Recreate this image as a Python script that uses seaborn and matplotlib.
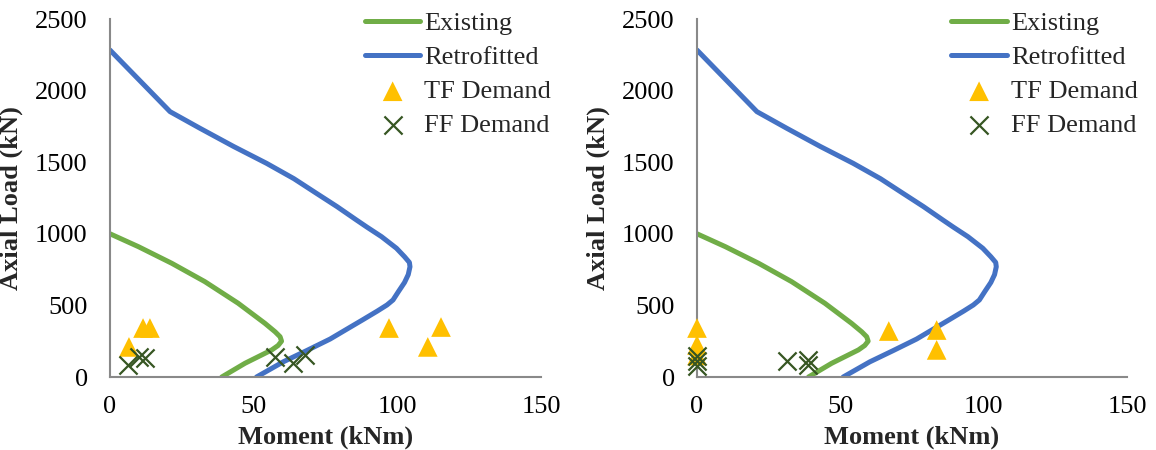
import numpy as np
import pandas as pd
import matplotlib
matplotlib.use("Agg")
import matplotlib.pyplot as plt
import seaborn as sns

# ---- data ----
existing_m = [0, 9.9, 21.5, 33, 44.6, 53.9, 57.5, 59.2, 59.7, 58.5, 56.3, 47, 38.9]
existing_p = [1000, 910, 794, 666, 515, 375, 315, 281, 250, 220, 189, 96, 0]

retro_m = [0, 20.9, 31.3, 43, 54.5, 64, 71.9, 79, 85.8, 89.4, 94.5, 99.7, 102.5,
           104.2, 104.4, 103.8, 102.5, 100.5, 98.5, 96.4, 93, 88, 82.5, 76.6,
           68.5, 60.3, 51]
retro_p = [2283, 1853, 1737, 1610, 1492, 1385, 1282, 1190, 1096, 1047, 980, 899,
           840, 800, 770, 715, 660, 600, 538, 503, 460, 400, 335, 265,
           185, 106, 0]

tf_left_m = [6.6, 11.5, 13.9, 97.1, 110.6, 115.2]
tf_left_p = [210, 342, 342, 342, 210, 349]
ff_left_m = [6.3, 10.1, 12.2, 57.4, 63.7, 67.8]
ff_left_p = [84, 140, 133, 140, 98, 154]

tf_right_m = [0, 0, 0, 66.9, 83.6, 83.6]
tf_right_p = [342, 223, 150, 321, 328, 189]
ff_right_m = [0, 0, 0, 31.3, 38.6, 38.6]
ff_right_p = [150, 110, 75, 112, 119, 84]

x_ticks = [0, 50, 100, 150]
y_ticks = [0, 500, 1000, 1500, 2000, 2500]

GREEN = "#70AD47"
BLUE = "#4472C4"
GOLD = "#FFC000"
DKGREEN = "#375623"
GRAY = "#898989"

sns.set_style("white")
plt.rcParams["font.family"] = ["Liberation Serif", "DejaVu Serif"]
FS = 19

fig = plt.figure(figsize=(11.56, 4.5), dpi=100)
ax1 = fig.add_axes([110 / 1156, 73 / 450, 431 / 1156, 358 / 450])
ax2 = fig.add_axes([697 / 1156, 73 / 450, 430 / 1156, 358 / 450])

df_ex = pd.DataFrame({"M": existing_m, "P": existing_p})
df_re = pd.DataFrame({"M": retro_m, "P": retro_p})

panels = [(ax1, tf_left_m, tf_left_p, ff_left_m, ff_left_p),
          (ax2, tf_right_m, tf_right_p, ff_right_m, ff_right_p)]

for ax, tfm, tfp, ffm, ffp in panels:
    sns.lineplot(data=df_ex, x="M", y="P", sort=False, estimator=None, ax=ax,
                 color=GREEN, linewidth=3.6, label="Existing",
                 solid_capstyle="round", solid_joinstyle="round")
    sns.lineplot(data=df_re, x="M", y="P", sort=False, estimator=None, ax=ax,
                 color=BLUE, linewidth=3.6, label="Retrofitted",
                 solid_capstyle="round", solid_joinstyle="round")
    sns.scatterplot(x=tfm, y=tfp, ax=ax, marker="^", s=200, color=GOLD,
                    edgecolor="none", label="TF Demand", zorder=3, clip_on=False)
    sns.scatterplot(x=ffm, y=ffp, ax=ax, marker="x", s=170, color=DKGREEN,
                    linewidth=1.6, label="FF Demand", zorder=4, clip_on=False)

    ax.set_xlim(0, 150)
    ax.set_ylim(0, 2500)
    ax.set_xticks(x_ticks)
    ax.set_yticks(y_ticks)
    ax.set_xlabel("Moment (kNm)", fontsize=FS, fontweight="bold", labelpad=5)
    ax.set_ylabel("Axial Load (kN)", fontsize=FS, fontweight="bold", labelpad=9)
    for s in ["top", "right"]:
        ax.spines[s].set_visible(False)
    for s in ["left", "bottom"]:
        ax.spines[s].set_color(GRAY)
        ax.spines[s].set_linewidth(1.5)
    ax.tick_params(axis="both", which="major", direction="out", length=6,
                   width=1.5, color=GRAY, labelsize=FS, labelcolor="black")
    ax.tick_params(axis="y", pad=10)
    ax.tick_params(axis="x", pad=8)
    leg = ax.legend(loc="upper left", bbox_to_anchor=(0.567, 1.05),
                    frameon=False, fontsize=FS, handlelength=2.1,
                    handletextpad=0.15, labelspacing=0.4, borderaxespad=0)

fig.savefig("out.png", dpi=100)
